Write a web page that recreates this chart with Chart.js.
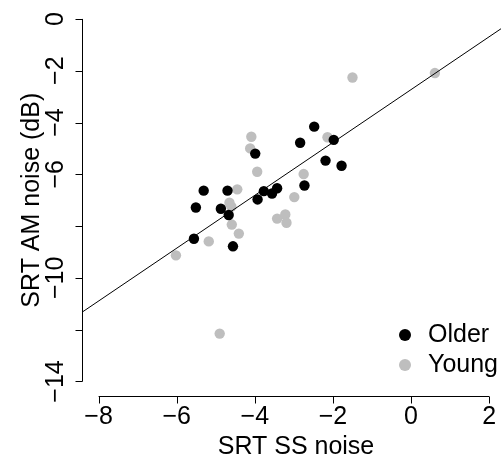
<!DOCTYPE html>
<html>
<head>
<meta charset="utf-8">
<script src="https://cdn.jsdelivr.net/npm/chart.js@4/dist/chart.umd.min.js"></script>
<style>
  html, body { margin: 0; padding: 0; background: #fff; overflow: hidden; }
  #wrap { width: 501px; height: 461px; overflow: hidden; }
</style>
</head>
<body>
<div id="wrap"><canvas id="chart" width="510" height="461"></canvas></div>
<script>
// SRT SS noise (x) vs SRT AM noise (y), per group
const olderX = [-2.48, -2.84, -1.98, -3.99, -2.19, -1.78, -5.31, -4.70, -3.77, -3.43, -3.56, -2.73, -3.93, -5.51, -4.87, -4.67, -5.56, -4.56];
const olderY = [-4.16, -4.78, -4.67, -5.20, -5.47, -5.67, -6.63, -6.63, -6.65, -6.54, -6.74, -6.43, -6.97, -7.28, -7.33, -7.57, -8.49, -8.78];
const youngX = [-1.50, 0.61, -4.09, -4.12, -2.14, -3.94, -2.75, -4.45, -4.65, -2.99, -4.60, -4.59, -4.41, -5.18, -6.02, -3.43, -3.22, -3.19, -4.90];
const youngY = [-2.26, -2.09, -4.55, -5.00, -4.57, -5.90, -5.99, -6.58, -7.10, -6.88, -7.25, -7.94, -8.29, -8.59, -9.13, -7.71, -7.55, -7.87, -12.15];
// fitted line, end points at the plot edges
const fitX = [-8.4, 2.4];
const fitY = [-11.30, -0.28];

const xTicks = [-8, -6, -4, -2, 0, 2];
const yTicks = [0, -2, -4, -6, -8, -10, -12, -14];
const yTickLabels = ["0", "\u22122", "\u22124", "\u22126", "", "\u221210", "", "\u221214"];
const legendLabels = ["Older", "Young"];
const legendColors = ["#000000", "#BEBEBE"];

const FONT = '25px "Liberation Sans", Arial, Helvetica, sans-serif';

const toPts = (xs, ys) => xs.map((x, i) => ({ x: x, y: ys[i] }));

// R-style axes: detached axis lines, ticks, rotated y labels, legend
const rAxes = {
  id: "rAxes",
  afterDraw(chart) {
    const ctx = chart.ctx;
    const xs = chart.scales.x, ys = chart.scales.y;
    const area = chart.chartArea;
    ctx.save();
    ctx.strokeStyle = "#000";
    ctx.fillStyle = "#000";
    ctx.lineWidth = 1;
    ctx.font = FONT;

    // x axis
    const xb = Math.round(area.bottom) + 0.5;
    const x0 = xs.getPixelForValue(xTicks[0]), x1 = xs.getPixelForValue(xTicks[xTicks.length - 1]);
    ctx.beginPath();
    ctx.moveTo(x0, xb); ctx.lineTo(x1, xb);
    xTicks.forEach(v => {
      const px = Math.round(xs.getPixelForValue(v)) + 0.5;
      ctx.moveTo(px, xb); ctx.lineTo(px, xb + 7);
    });
    ctx.stroke();
    ctx.textAlign = "center";
    ctx.textBaseline = "middle";
    xTicks.forEach(v => {
      const lbl = v < 0 ? "\u2212" + Math.abs(v) : String(v);
      ctx.fillText(lbl, xs.getPixelForValue(v), 417);
    });
    ctx.fillText("SRT SS noise", 296, 447);

    // y axis
    const yl = Math.round(area.left) - 0.5;
    const y0 = ys.getPixelForValue(yTicks[0]), y1 = ys.getPixelForValue(yTicks[yTicks.length - 1]);
    ctx.beginPath();
    ctx.moveTo(yl, y0); ctx.lineTo(yl, y1);
    yTicks.forEach(v => {
      const py = Math.round(ys.getPixelForValue(v)) + 0.5;
      ctx.moveTo(yl, py); ctx.lineTo(yl - 7, py);
    });
    ctx.stroke();
    yTicks.forEach((v, i) => {
      if (!yTickLabels[i]) return;
      ctx.save();
      ctx.translate(56, ys.getPixelForValue(v));
      ctx.rotate(-Math.PI / 2);
      ctx.fillText(yTickLabels[i], 0, 0);
      ctx.restore();
    });
    ctx.save();
    ctx.translate(32, ys.getPixelForValue(-7));
    ctx.rotate(-Math.PI / 2);
    ctx.fillText("SRT AM noise (dB)", 0, 0);
    ctx.restore();

    // legend
    ctx.textAlign = "left";
    legendLabels.forEach((lbl, i) => {
      const cy = 335 + i * 30;
      ctx.beginPath();
      ctx.fillStyle = legendColors[i];
      ctx.arc(405, cy, 6, 0, Math.PI * 2);
      ctx.fill();
      ctx.fillStyle = "#000";
      ctx.fillText(lbl, 428, cy);
    });
    ctx.restore();
  }
};

new Chart(document.getElementById("chart"), {
  type: "scatter",
  data: {
    datasets: [
      {
        type: "line",
        label: "fit",
        data: toPts(fitX, fitY),
        borderColor: "#000",
        borderWidth: 1,
        pointRadius: 0,
        fill: false
      },
      {
        label: legendLabels[0],
        data: toPts(olderX, olderY),
        backgroundColor: legendColors[0],
        borderWidth: 0,
        pointRadius: 5.2
      },
      {
        label: legendLabels[1],
        data: toPts(youngX, youngY),
        backgroundColor: legendColors[1],
        borderWidth: 0,
        pointRadius: 5.2
      }
    ]
  },
  options: {
    responsive: false,
    animation: false,
    layout: { padding: { left: 83, right: 0, top: 0, bottom: 65 } },
    plugins: { legend: { display: false }, tooltip: { enabled: false } },
    scales: {
      x: { type: "linear", display: false, min: -8.4, max: 2.4 },
      y: { type: "linear", display: false, min: -14.56, max: 0.53 }
    }
  },
  plugins: [rAxes]
});
</script>
</body>
</html>
